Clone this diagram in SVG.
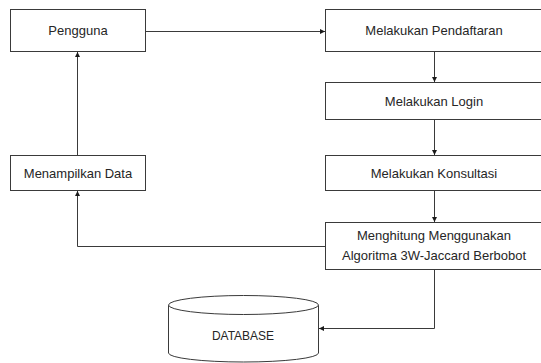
<svg xmlns="http://www.w3.org/2000/svg" width="541" height="363" viewBox="0 0 541 363">
  <style>
    .box { fill: #ffffff; stroke: #3a3a3a; stroke-width: 1; }
    .lbl { font-family: "Liberation Sans", Arial, sans-serif; font-size: 13px; fill: #262626; text-anchor: middle; }
    .wire { fill: none; stroke: #3a3a3a; stroke-width: 1; }
  </style>
  <defs>
    <marker id="arrow" viewBox="0 0 6 6" refX="6" refY="3" markerWidth="5" markerHeight="5" orient="auto" markerUnits="userSpaceOnUse">
      <path d="M0,0 L6,3 L0,6 Z" fill="#1a1a1a"/>
    </marker>
  </defs>
  <rect width="541" height="363" fill="#ffffff"/>

  <g id="pengguna">
    <rect class="box" x="10.5" y="9.5" width="135" height="42"/>
    <text class="lbl" x="78" y="35">Pengguna</text>
  </g>

  <g id="pendaftaran">
    <rect class="box" x="325.5" y="9.5" width="220" height="42"/>
    <text class="lbl" x="434" y="35">Melakukan Pendaftaran</text>
  </g>

  <g id="login">
    <rect class="box" x="325.5" y="82.5" width="220" height="37"/>
    <text class="lbl" x="434" y="105.5">Melakukan Login</text>
  </g>

  <g id="konsultasi">
    <rect class="box" x="325.5" y="155.5" width="220" height="35"/>
    <text class="lbl" x="434" y="177.5">Melakukan Konsultasi</text>
  </g>

  <g id="menghitung">
    <rect class="box" x="325.5" y="222.5" width="220" height="47"/>
    <text class="lbl" x="434" y="240">Menghitung Menggunakan</text>
    <text class="lbl" x="434" y="260">Algoritma 3W-Jaccard Berbobot</text>
  </g>

  <g id="menampilkan">
    <rect class="box" x="10.5" y="155.5" width="135" height="35"/>
    <text class="lbl" x="78" y="177.5">Menampilkan Data</text>
  </g>

  <g id="database">
    <path class="box" d="M168.5,305 L168.5,353 A75,9 0 0 0 318.5,353 L318.5,305"/>
    <ellipse class="box" cx="243.5" cy="305" rx="75" ry="9.5"/>
    <text class="lbl" x="243" y="340" style="font-size:12px">DATABASE</text>
  </g>

  <g id="connectors">
    <path class="wire" d="M145.5,31.5 L325,31.5" marker-end="url(#arrow)"/>
    <path class="wire" d="M434.5,51.5 L434.5,82" marker-end="url(#arrow)"/>
    <path class="wire" d="M434.5,119.5 L434.5,155" marker-end="url(#arrow)"/>
    <path class="wire" d="M434.5,190.5 L434.5,222" marker-end="url(#arrow)"/>
    <path class="wire" d="M325.5,246.5 L77.5,246.5 L77.5,191" marker-end="url(#arrow)"/>
    <path class="wire" d="M77.5,155.5 L77.5,52" marker-end="url(#arrow)"/>
    <path class="wire" d="M434.5,269.5 L434.5,328.5 L319,328.5" marker-end="url(#arrow)"/>
  </g>
</svg>
